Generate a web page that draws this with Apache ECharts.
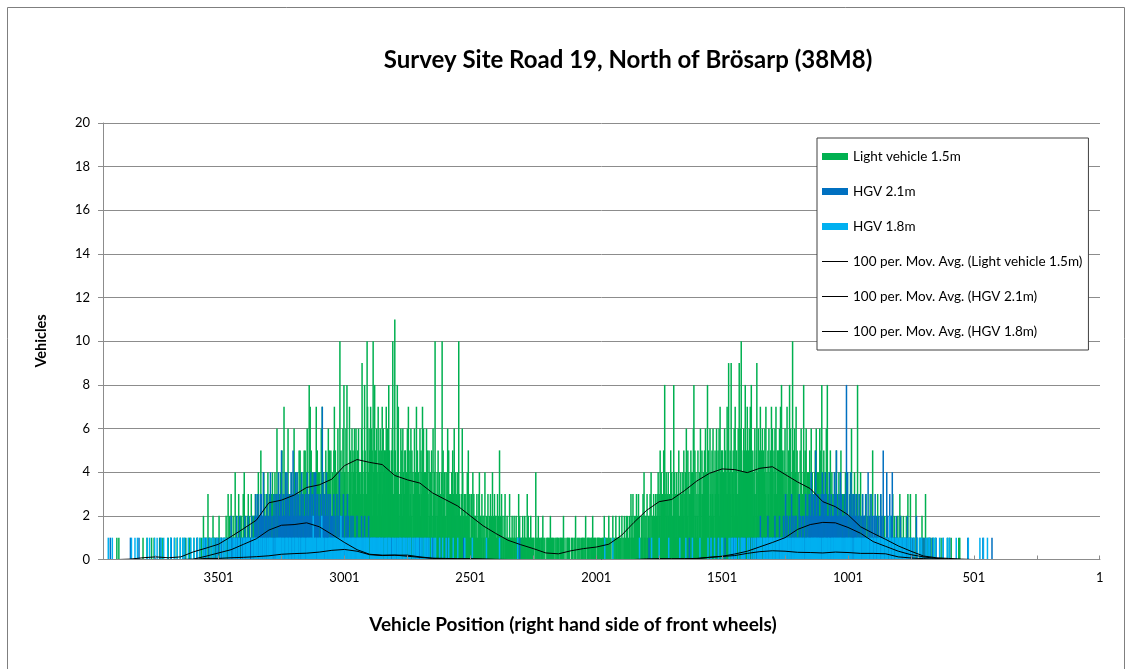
<!DOCTYPE html>
<html>
<head>
<meta charset="utf-8">
<title>Survey Site Road 19, North of Brösarp (38M8)</title>
<script src="https://cdn.jsdelivr.net/npm/echarts@6/dist/echarts.min.js"></script>
<style>
  html, body { margin: 0; padding: 0; background: #ffffff; }
  #chart { width: 1130px; height: 669px; }
</style>
</head>
<body>
<div id="chart"></div>
<script>
// Vehicle counts per lateral position. One digit per sampled position
// (every second position, from 3959 on the left down to 1 on the right),
// 50 positions per row. Counts above 9 use base-36 digits (a = 10, b = 11).
const lightVehicle = [
  "0000000000 0000000000 0000000100 0100000000 0000000000",
  "0000000000 0000000000 0000000001 0000000100 0000001000",
  "0100000000 0010000100 0000000001 0000100000 0010000100",
  "0001000010 0000100000 0101000000 1000000100 0010010002",
  "1010010030 1100100021 0110010100 2010110001 0100210130",
  "1201310120 1041020113 0120211031 4102101230 2110301212",
  "2131203142 1215320214 1302231420 3121304213 2413162130",
  "3241152307 2314203612 3102413216 4223041325 2524132435",
  "3514261328 2735143421 3417152432 4326173142 2351424635",
  "4352143257 3524136243 a352436284 4263824137 3542635426",
  "5463152634 4326953248 5423a72465 374652a438 4536427354",
  "6452736425 5374163852 43526a315b 5243847213 4635264335",
  "5342637425 3625143263 4273524136 2534726341 4362531524",
  "435216324a 2314253142 314a253241 2413625132 3142513624",
  "231412a132 2136412312 3214052131 1302413221 2131023412",
  "2130212041 1202310213 0214121302 2103120512 1320112031",
  "1121011311 0121102110 2111031201 0112110211 1031211102",
  "1010110014 0110201001 1012010100 0110101020 1010100101",
  "0110100110 1010200100 0110101000 1010010120 0101010100",
  "1011010120 0110110101 1020101010 0110110100 1011020110",
  "1010201010 0120101021 1011020110 2010120102 1201021031",
  "2131021203 1203121012 2130412120 3102213041 2213021312",
  "3241325143 2315283142 3142231524 2138241324 1325213423",
  "3425134263 2514323541 4368152413 2513426315 3142536241",
  "8352163425 3624153462 4536274351 5243625437 3692453914",
  "4536274153 2639463a52 4365281537 3526473814 5243613592",
  "4635271546 3524637241 5362451736 4253647325 3546273845",
  "4352614372 352846314a 2536147253 4213526413 3842536214",
  "3425136241 2314526342 4136253814 2531426183 3241532413",
  "2314025132 1423051231 3120413241 2032416312 3140231281",
  "2130412031 1202130120 0213101250 1021102031 2010312012",
  "1020110210 0110201031 1201010120 0130201102 1010020130",
  "0103001000 1000300100 0010002010 1003000100 0100100010",
  "0010000000 0000100000 0000000100 0000100000 0000000001",
  "0100000000 0000000000 0000000000 0000000000 0000000000",
  "0000000000 0000000000 0000000000 0000000000 0000000000",
  "0000000000 0000000000 0000000000 0000000000 0000000000",
  "0000000000 0000000000 0000000000 0000000000 0000000000",
  "0000000000 0000000000 0000000000 0000000000 0000000000",
  "0000000000 0000000000 0000000000"
];

const hgv21 = [
  "0000000000 0000100000 0000000000 0000000000 0000000000",
  "0000100000 0000000000 0100000000 0000000000 0000000000",
  "0000000000 0001000000 0000000000 0000010000 0000000000",
  "0000000000 0010000000 0000000000 0000001000 0000000000",
  "0001000000 1000000100 0000100001 0000010000 1000000010",
  "1010200101 0011020100 1200101001 0201010120 1010020101",
  "1213120310 2031302142 0120231021 1342011203 2013130142",
  "2131502132 1243142031 2134213502 1342041232 0213420311",
  "2130241203 1342130214 2041233120 1302174213 2124312031",
  "1302120131 2011302104 1201021301 0120130210 1021012010",
  "1010200110 0102010012 1001010200 0100101010 1010010001",
  "0100010000 1000001000 0010000100 0001000010 0100001000",
  "0010000100 0000100000 1000000010 0001000000 0100001000",
  "0000100000 0000000010 0000000000 0010000000 0000000000",
  "0000000000 0000001000 0000000000 0000000000 0000000000",
  "0000000000 0000000000 0000000000 0000000000 0000000000",
  "0000000000 0000000000 0000000100 0000000000 0000000000",
  "0000000000 0000000000 0000000000 0000000000 0000000000",
  "0000000000 0000000000 0000000000 0000000000 0000000000",
  "0000000000 0000000000 0000000000 0000000000 0000000000",
  "0000000000 0000000000 0000000000 0000000000 0000000000",
  "0000000000 0000000000 0000000000 0000100000 0000000000",
  "0000000000 0000000000 0000000000 0000000000 0000000000",
  "0000000000 0000100000 0000000000 0000000000 0000000000",
  "0000000100 0000000000 0100000000 0000010000 0000000001",
  "0100001000 0010000010 1000010000 0001000100 0100000010",
  "1010020100 0101001010 2001010100 0110200010 1002010101",
  "1201031020 0112010301 2011202110 1030121012 0210130211",
  "2131204123 1203152013 3120213042 1302413120 2041203121",
  "2140315202 1302413102 2130218141 1203140213 2130213012",
  "1302110231 2012301104 0120131021 1203012010 2101302115",
  "1010014020 0130102400 1001020100 0102001010 1001010200",
  "0100100010 1000020000 0010001000 1000100001 0010000100",
  "0000100000 0000000010 0000000000 0100000000 0000000000",
  "0000000000 0000000100 0000000000 0000000000 0000000100",
  "0000000000 0000010000 0000000000 0000000000 0000000000",
  "0000000000 0000000000 0000000000 0000000000 0000000000",
  "0000000000 0000000000 0000000000 0000000000 0000000000",
  "0000000000 0000000000 0000000000 0000000000 0000000000",
  "0000000000 0000000000 0000000000"
];

const hgv18 = [
  "0000000000 1000000010 0000000000 0000000000 0000000000",
  "0000001000 0001000010 0000000000 0000000100 0010000000",
  "0010000100 0000010000 1000000010 0000100000 0100000100",
  "0001000010 0100000001 0000100000 1000000100 0010000010",
  "0100010000 0010000100 1000001000 0001000010 0100100001",
  "1001000010 0100100010 1000010001 0100101010 1000010100",
  "1010010100 1001010010 0101001001 1010100100 0100101010",
  "1011001010 0101101001 1010010110 0110101001 1001011010",
  "1001011010 1011010201 0110010101 1010211010 0101001011",
  "1101101011 0110110101 1021011010 0110101101 1010110110",
  "1010110101 0110101011 1011010100 0101101101 1010101011",
  "1001010010 0101001010 1000101001 0100100101 1001001010",
  "0101001001 1000100101 0010101000 1001000101 0100100100",
  "0010000100 1000000010 0000100000 0100001000 0000010000",
  "0000100000 0000000010 0000000000 0001000000 0000000000",
  "0000000000 0100000000 0000000000 0000000100 0000000000",
  "0000000000 0000000000 0001000000 0000000000 0000000000",
  "0000000000 0000000000 0000000000 0000000000 0000000000",
  "0000000000 0000000000 0000000000 0000000000 0000000000",
  "0000000000 0000000000 0000000000 0000000000 0000001000",
  "0000000000 0010000000 0000000000 0000000000 0000000000",
  "0000000000 0000010000 0000000000 0000000001 0000000000",
  "0000100000 0000000000 0001000000 0000000000 0000010000",
  "0000000100 0000000000 1000000000 0000010000 0000000000",
  "0100000100 0000100000 0010000010 1000000000 0001000100",
  "1000100100 0010000101 0100100000 1001000010 0010010001",
  "1010110100 0101001011 1001010110 0110100101 1010011010",
  "1101010110 0110101001 1010110101 0101011010 1100101011",
  "1010101101 0101101010 1101010010 0110101001 1010010110",
  "0110101010 1010110101 0101011010 1011010100 0101101011",
  "1010100101 0101010110 1001011010 0110100101 1010010010",
  "1001010100 0120100101 1000101010 0101001001 1010100010",
  "0100010000 1000000100 0010010000 0000100010 0100000001",
  "0001000000 0100000010 0000001000 1000000000 0000100000",
  "0000000000 0000000010 0000000000 0000000000 0100000010",
  "0000001000 0000000000 0000000000 0000000000 0000000000",
  "0000000000 0000000000 0000000000 0000000000 0000000000",
  "0000000000 0000000000 0000000000 0000000000 0000000000",
  "0000000000 0000000000 0000000000 0000000000 0000000000",
  "0000000000 0000000000 0000000000"
];

// 100-period moving averages, taken every 50 positions from 3951 down to 101.
const MA_FIRST_POSITION = 3951;
const MA_STEP = 50;
const maLightVehicle = [
  0, 0, 0.02, 0.08, 0.12, 0.08, 0.12, 0.35, 0.52, 0.7,
  1.05, 1.42, 1.8, 2.6, 2.72, 2.95, 3.3, 3.42, 3.68, 4.3,
  4.58, 4.45, 4.35, 3.85, 3.65, 3.5, 3.05, 2.75, 2.45, 2.0,
  1.55, 1.2, 0.88, 0.68, 0.5, 0.3, 0.26, 0.4, 0.5, 0.57,
  0.7, 1.1, 1.7, 2.25, 2.65, 2.75, 3.15, 3.6, 3.95, 4.15,
  4.12, 3.98, 4.18, 4.25, 3.9, 3.55, 3.25, 2.65, 2.42, 2.05,
  1.5, 1.2, 0.92, 0.62, 0.38, 0.16, 0.08, 0.05, 0.02, 0,
  0, 0, 0, 0, 0, 0, 0, 0
];
const maHgv21 = [
  0, 0, 0, 0, 0, 0, 0, 0.02, 0.15, 0.3,
  0.45, 0.7, 0.95, 1.35, 1.57, 1.6, 1.68, 1.5, 1.15, 0.78,
  0.45, 0.24, 0.2, 0.2, 0.15, 0.1, 0.05, 0.03, 0.02, 0.01,
  0, 0, 0, 0, 0, 0, 0, 0, 0, 0,
  0, 0, 0, 0, 0, 0, 0.02, 0.04, 0.1, 0.15,
  0.25, 0.38, 0.58, 0.78, 1.0, 1.38, 1.6, 1.7, 1.68, 1.47,
  1.2, 0.82, 0.6, 0.38, 0.22, 0.12, 0.05, 0.02, 0, 0,
  0, 0, 0, 0, 0, 0, 0, 0
];
const maHgv18 = [
  0, 0, 0, 0, 0, 0, 0, 0, 0.05, 0.05,
  0.08, 0.1, 0.13, 0.17, 0.24, 0.27, 0.29, 0.34, 0.42, 0.46,
  0.38, 0.22, 0.18, 0.2, 0.2, 0.12, 0.06, 0.05, 0.04, 0.04,
  0.03, 0.01, 0, 0, 0, 0, 0, 0, 0, 0,
  0, 0, 0, 0.03, 0.04, 0.04, 0.04, 0.05, 0.1, 0.14,
  0.18, 0.28, 0.36, 0.4, 0.38, 0.33, 0.32, 0.3, 0.34, 0.32,
  0.28, 0.28, 0.26, 0.12, 0.07, 0.04, 0.02, 0, 0, 0,
  0, 0, 0, 0, 0, 0, 0, 0
];

const tickLabels = ['3501', '3001', '2501', '2001', '1501', '1001', '501', '1'];
const seriesNames = [
  'Light vehicle 1.5m',
  'HGV 2.1m',
  'HGV 1.8m',
  '100 per. Mov. Avg. (Light vehicle 1.5m)',
  '100 per. Mov. Avg. (HGV 2.1m)',
  '100 per. Mov. Avg. (HGV 1.8m)'
];
const colors = { light: '#00B050', hgv21: '#0070C0', hgv18: '#00B0F0', avg: '#000000' };

function decodeCounts(rows) {
  return rows.join('').replace(/\s+/g, '').split('').map(function (c) { return parseInt(c, 36); });
}

const lvCounts = decodeCounts(lightVehicle);
const h21Counts = decodeCounts(hgv21);
const h18Counts = decodeCounts(hgv18);
const N = lvCounts.length;
// Category i holds position 2*(N-1-i)+1, so position 1 sits at the right end.
const categories = [];
for (let i = 0; i < N; i++) categories.push(String(2 * (N - 1 - i) + 1));

function averageLine(values) {
  const out = new Array(N).fill(null);
  values.forEach(function (v, k) {
    const idx = categories.indexOf(String(MA_FIRST_POSITION - MA_STEP * k));
    if (idx >= 0) out[idx] = v;
  });
  return out;
}

const FONT = 'Lato, "Liberation Sans", sans-serif';
const GRID_COLOR = '#8c8c8c';
const LINE_ICON = 'path://M0,0L26,0L26,1L0,1Z';

function barSeries(name, data, color) {
  return {
    name: name, type: 'bar', data: data,
    barWidth: 1.5, barGap: '-100%',
    itemStyle: { color: color },
    progressive: 0, animation: false, silent: true, z: 2
  };
}
function lineSeries(name, data) {
  return {
    name: name, type: 'line', data: averageLine(data),
    connectNulls: true, symbol: 'none', showSymbol: false, smooth: false,
    lineStyle: { color: colors.avg, width: 1 },
    itemStyle: { color: colors.avg },
    animation: false, silent: true, z: 3
  };
}

const chart = echarts.init(document.getElementById('chart'), null, { renderer: 'canvas' });
chart.setOption({
  backgroundColor: '#ffffff',
  animation: false,
  grid: { left: 103, right: 30, top: 123, bottom: 109.5, containLabel: false },
  legend: {
    orient: 'vertical', left: 817, top: 138,
    padding: [11.5, 6, 11.5, 5], itemGap: 21,
    itemWidth: 26, itemHeight: 7,
    backgroundColor: '#ffffff', borderColor: '#404040', borderWidth: 1,
    selectedMode: false,
    textStyle: { fontFamily: FONT, fontSize: 13.5, lineHeight: 14, color: '#000000' },
    data: [
      { name: seriesNames[0], icon: 'rect' },
      { name: seriesNames[1], icon: 'rect' },
      { name: seriesNames[2], icon: 'rect' },
      { name: seriesNames[3], icon: LINE_ICON },
      { name: seriesNames[4], icon: LINE_ICON },
      { name: seriesNames[5], icon: LINE_ICON }
    ]
  },
  xAxis: {
    type: 'category', data: categories, boundaryGap: true, z: 5,
    axisLine: { show: true, lineStyle: { color: GRID_COLOR, width: 1 } },
    axisTick: {
      show: true, inside: true, length: 4, alignWithLabel: true,
      interval: function (idx, val) { return (Number(val) - 1) % 250 === 0; },
      lineStyle: { color: GRID_COLOR }
    },
    axisLabel: {
      interval: function (idx, val) { return tickLabels.indexOf(val) >= 0; },
      margin: 12, fontFamily: FONT, fontSize: 13, color: '#000000'
    },
    splitLine: { show: false }
  },
  yAxis: {
    type: 'value', min: 0, max: 20, interval: 2,
    axisLine: { show: true, lineStyle: { color: GRID_COLOR, width: 1 } },
    axisTick: { show: true, length: 5, lineStyle: { color: GRID_COLOR } },
    axisLabel: { margin: 13, fontFamily: FONT, fontSize: 13, color: '#000000' },
    splitLine: { show: true, lineStyle: { color: GRID_COLOR, width: 1 } }
  },
  graphic: [
    { type: 'rect', silent: true, z: -10,
      shape: { x: 7.5, y: 7.5, width: 1117, height: 700 },
      style: { fill: null, stroke: '#7f7f7f', lineWidth: 1 } },
    { type: 'text', x: 628, y: 60, silent: true,
      style: { text: 'Survey Site Road 19, North of Brösarp (38M8)', fill: '#000000',
        font: 'bold 24px ' + FONT, align: 'center', verticalAlign: 'middle' } },
    { type: 'text', x: 573, y: 625, silent: true,
      style: { text: 'Vehicle Position (right hand side of front wheels)', fill: '#000000',
        font: 'bold 19px ' + FONT, align: 'center', verticalAlign: 'middle' } },
    { type: 'text', x: 41, y: 341, rotation: Math.PI / 2, silent: true,
      style: { text: 'Vehicles', fill: '#000000',
        font: 'bold 14.5px ' + FONT, align: 'center', verticalAlign: 'middle' } }
  ],
  series: [
    barSeries(seriesNames[0], lvCounts, colors.light),
    barSeries(seriesNames[1], h21Counts, colors.hgv21),
    barSeries(seriesNames[2], h18Counts, colors.hgv18),
    lineSeries(seriesNames[3], maLightVehicle),
    lineSeries(seriesNames[4], maHgv21),
    lineSeries(seriesNames[5], maHgv18)
  ]
});
</script>
</body>
</html>
